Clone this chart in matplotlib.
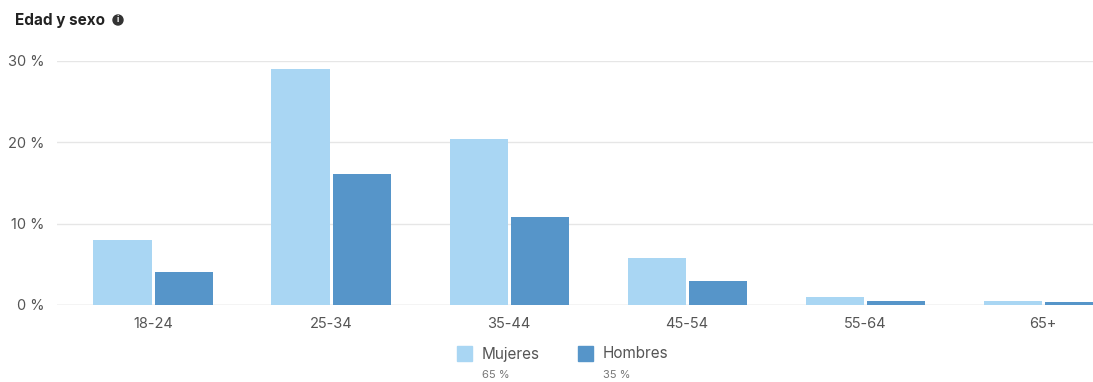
import matplotlib
matplotlib.use("Agg")
import matplotlib.pyplot as plt
import numpy as np
from matplotlib.patches import Rectangle, Ellipse

categories = ["18-24", "25-34", "35-44", "45-54", "55-64", "65+"]
mujeres = [8.0, 29.0, 20.4, 5.8, 1.0, 0.5]
hombres = [4.0, 16.1, 10.8, 2.95, 0.5, 0.35]
yticks = [0, 10, 20, 30]
series_names = ["Mujeres", "Hombres"]
series_share = ["65 %", "35 %"]

c_m = "#a9d6f3"
c_h = "#5695c9"
txt = "#555555"

plt.rcParams['font.family'] = ['Inter', 'DejaVu Sans']

W, H = 1093, 382
fig = plt.figure(figsize=(W/100, H/100), dpi=100)
ax = fig.add_axes([57/W, 1-305/H, 1-57/W, (305-61)/H])

x = np.arange(len(categories))
bw = 0.326
ax.bar(x - 0.172, mujeres, width=bw, color=c_m, zorder=3)
ax.bar(x + 0.172, hombres, width=bw, color=c_h, zorder=3)

ax.set_xlim(-0.54, 5.28)
ax.set_ylim(0, 30)
ax.set_yticks(yticks)
ax.set_yticklabels([f"{v} %" for v in yticks])
ax.set_xticks(x)
ax.set_xticklabels(categories)
ax.tick_params(axis='both', length=0, labelsize=10.5, colors=txt)
ax.tick_params(axis='y', pad=9)
ax.tick_params(axis='x', pad=9)
ax.grid(axis='y', color='#e6e6e6', linewidth=1, zorder=0)
for s in ax.spines.values():
    s.set_visible(False)
ax.axhline(0, color='#dddddd', linewidth=1, zorder=2)

# title
fig.text(15/W, 1-21/H, "Edad y sexo", fontsize=11, fontweight='bold', color='#222222', va='center', ha='left')
fig.text(118/W, 1-20/H, "i", fontsize=6, fontweight='bold', color='white', va='center', ha='center', zorder=5)
fig.patches.append(Ellipse((118/W, 1-20/H), 10/W, 10/H, transform=fig.transFigure, color='#333333', zorder=4))

# legend
for i, (name, share, col) in enumerate(zip(series_names, series_share, [c_m, c_h])):
    x0 = 457 + i*121
    fig.patches.append(Rectangle((x0/W, 1-361/H), 15/W, 15/H, transform=fig.transFigure, color=col))
    fig.text((x0+25)/W, 1-354/H, name, fontsize=11, color=txt, va='center', ha='left')
    fig.text((x0+25)/W, 1-375/H, share, fontsize=8, color='#777777', va='center', ha='left')

fig.savefig("out.png", dpi=100)
